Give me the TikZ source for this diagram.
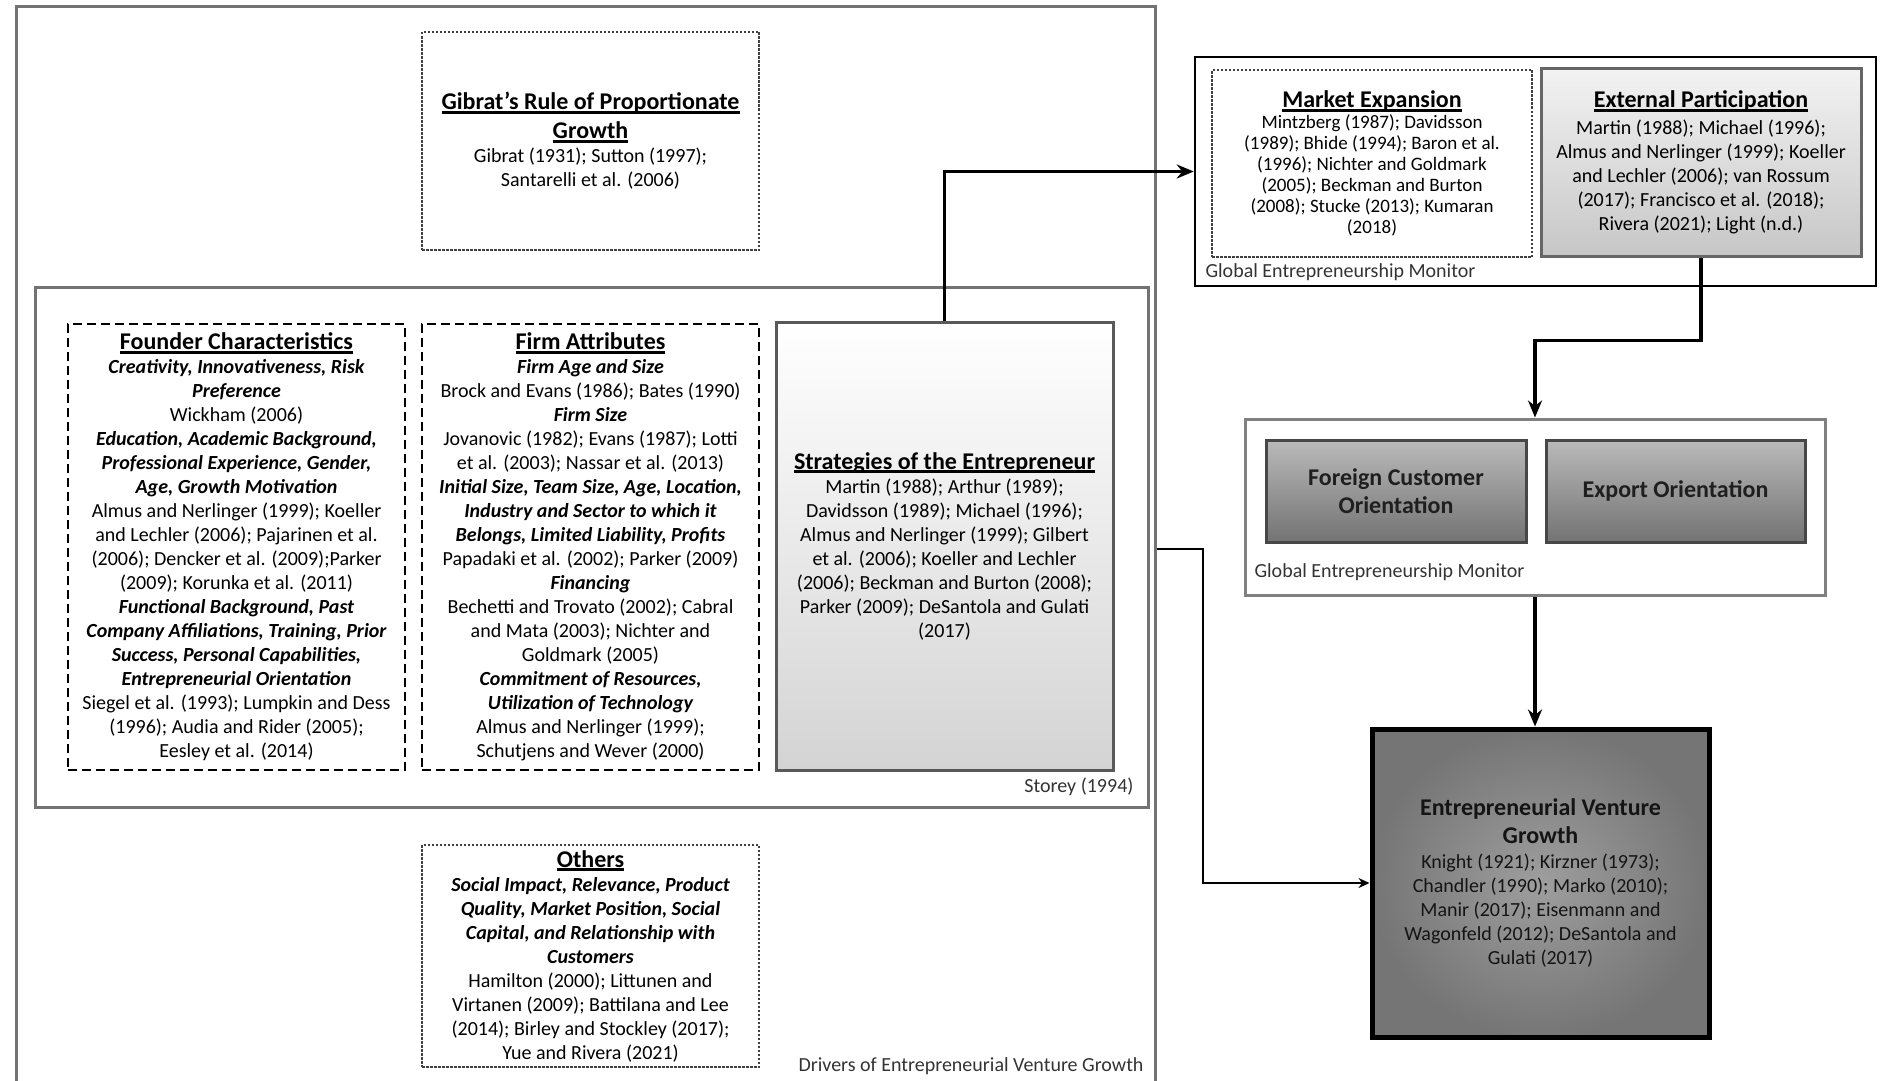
\documentclass[tikz,border=0pt]{standalone}
\usepackage{fontspec}
\setmainfont{Carlito}
\usetikzlibrary{arrows.meta}

% underlined box heading, bold
\newcommand{\hdline}[1]{\setbox0=\hbox{\fontsize{24}{24}\selectfont\bfseries\color{black}#1}\rlap{\color{black}\rule[-4pt]{\wd0}{2.6pt}}\box0}
% bold italic sub heading
\newcommand{\subhd}[1]{{\bfseries\itshape\color{black}#1}}

\begin{document}
\begin{tikzpicture}[x=1pt,y=-1pt,
    every node/.style={font=\fontsize{20}{24}\selectfont,align=center,text=black!78},
    frame/.style={draw=black!55,line width=3pt},
    dotbox/.style={draw=black!75,line width=1.5pt,dash pattern=on 2.5pt off 1.5pt},
    dashbox/.style={draw=black,line width=2pt,dash pattern=on 9pt off 5pt},
    stratbox/.style={draw=black!65,line width=3pt,top color=white,bottom color=black!17},
    partbox/.style={draw=black!60,line width=3pt,top color=black!5,bottom color=black!22},
    orientbox/.style={draw=black!72,line width=3pt,top color=black!27,bottom color=black!55,text=black!88,font=\fontsize{24}{28}\selectfont\bfseries},
    growthbox/.style={draw=black,line width=5pt,inner color=black!38,outer color=black!54,text=black!92},
    note/.style={text=black!80},
    flow/.style={->,>={Stealth[length=17pt,width=14pt]},line width=3.5pt},
    thin flow/.style={->,>={Stealth[length=11pt,width=10pt]},line width=1.8pt}]
    \useasboundingbox (0,0) rectangle (1901,1081);

    % frames
    \node[frame,anchor=north west,minimum width=1139pt,minimum height=1085pt] (drv) at (15,5) {};
    \node[frame,anchor=north west,minimum width=1113pt,minimum height=520pt] (sty) at (34,286) {};
    \node[draw=black,line width=2.5pt,minimum width=681pt,minimum height=229pt] (gem1) at (1535.5,171.5) {};
    \node[frame,draw=black!50,minimum width=580pt,minimum height=176pt] (gem2) at (1535,507) {};

    % drivers
    \node[dotbox,minimum width=337pt,minimum height=218pt] (gib) at (590.5,141) {\hdline{Gibrat's Rule of Proportionate}\\[5pt]
        \hdline{Growth}\\
        Gibrat (1931); Sutton (1997);\\
        Santarelli et al. (2006)};
    \node[dashbox,minimum width=337pt,minimum height=446pt] (fnd) at (236.5,547) {\hdline{Founder Characteristics}\\
        \subhd{Creativity, Innovativeness, Risk}\\
        \subhd{Preference}\\
        Wickham (2006)\\
        \subhd{Education, Academic Background,}\\
        \subhd{Professional Experience, Gender,}\\
        \subhd{Age, Growth Motivation}\\
        Almus and Nerlinger (1999); Koeller\\
        and Lechler (2006); Pajarinen et al.\\
        (2006); Dencker et al. (2009);Parker\\
        (2009); Korunka et al. (2011)\\
        \subhd{Functional Background, Past}\\
        \subhd{Company Affiliations, Training, Prior}\\
        \subhd{Success, Personal Capabilities,}\\
        \subhd{Entrepreneurial Orientation}\\
        Siegel et al. (1993); Lumpkin and Dess\\
        (1996); Audia and Rider (2005);\\
        Eesley et al. (2014)};
    \node[dashbox,minimum width=337pt,minimum height=446pt] (frm) at (590.5,547) {\hdline{Firm Attributes}\\
        \subhd{Firm Age and Size}\\
        Brock and Evans (1986); Bates (1990)\\
        \subhd{Firm Size}\\
        Jovanovic (1982); Evans (1987); Lotti\\
        et al. (2003); Nassar et al. (2013)\\
        \subhd{Initial Size, Team Size, Age, Location,}\\
        \subhd{Industry and Sector to which it}\\
        \subhd{Belongs, Limited Liability, Profits}\\
        Papadaki et al. (2002); Parker (2009)\\
        \subhd{Financing}\\
        Bechetti and Trovato (2002); Cabral\\
        and Mata (2003); Nichter and\\
        Goldmark (2005)\\
        \subhd{Commitment of Resources,}\\
        \subhd{Utilization of Technology}\\
        Almus and Nerlinger (1999);\\
        Schutjens and Wever (2000)};
    \node[stratbox,minimum width=337pt,minimum height=448pt] (strat) at (944.5,546) {\hdline{Strategies of the Entrepreneur}\\
        Martin (1988); Arthur (1989);\\
        Davidsson (1989); Michael (1996);\\
        Almus and Nerlinger (1999); Gilbert\\
        et al. (2006); Koeller and Lechler\\
        (2006); Beckman and Burton (2008);\\
        Parker (2009); DeSantola and Gulati\\
        (2017)};
    \node[dotbox,minimum width=337pt,minimum height=222pt] (oth) at (590.5,956) {\hdline{Others}\\
        \subhd{Social Impact, Relevance, Product}\\
        \subhd{Quality, Market Position, Social}\\
        \subhd{Capital, and Relationship with}\\
        \subhd{Customers}\\
        Hamilton (2000); Littunen and\\
        Virtanen (2009); Battilana and Lee\\
        (2014); Birley and Stockley (2017);\\
        Yue and Rivera (2021)};

    % global entrepreneurship monitor
    \node[dotbox,font=\fontsize{19}{21}\selectfont,minimum width=320pt,minimum height=187pt] (mkt) at (1372,163.5) {\hdline{Market Expansion}\\
        Mintzberg (1987); Davidsson\\
        (1989); Bhide (1994); Baron et al.\\
        (1996); Nichter and Goldmark\\
        (2005); Beckman and Burton\\
        (2008); Stucke (2013); Kumaran\\
        (2018)};
    \node[partbox,minimum width=320pt,minimum height=187pt] (extp) at (1701,162.5) {\hdline{External Participation}\\[3pt]
        Martin (1988); Michael (1996);\\
        Almus and Nerlinger (1999); Koeller\\
        and Lechler (2006); van Rossum\\
        (2017); Francisco et al. (2018);\\
        Rivera (2021); Light (n.d.)};
    \node[orientbox,minimum width=260pt,minimum height=102pt] (fco) at (1396,491) {Foreign Customer\\Orientation};
    \node[orientbox,minimum width=259pt,minimum height=102pt] (exo) at (1675.5,491) {Export Orientation};

    \node[growthbox,minimum width=337pt,minimum height=308pt] (evg) at (1540.5,883) {{\fontsize{24}{28}\selectfont\bfseries Entrepreneurial Venture}\\[4pt]
        {\fontsize{24}{28}\selectfont\bfseries Growth}\\[1pt]
        Knight (1921); Kirzner (1973);\\
        Chandler (1990); Marko (2010);\\
        Manir (2017); Eisenmann and\\
        Wagonfeld (2012); DeSantola and\\
        Gulati (2017)};

    % frame labels
    \node[note,anchor=east] (stylbl) at (1137,787) {Storey (1994)};
    \node[note,anchor=east] (drvlbl) at (1147,1066) {Drivers of Entrepreneurial Venture Growth};
    \node[note,anchor=west] (gemlbl1) at (1202,272) {Global Entrepreneurship Monitor};
    \node[note,anchor=west] (gemlbl2) at (1251,572) {Global Entrepreneurship Monitor};

    % connectors
    \draw[flow] (strat.north) |- (gem1.west);
    \draw[flow] (extp.south) -- ++(0,83) -| (gem2.north);
    \draw[flow] (gem2.south) -- (gem2.south |- evg.north);
    \draw[thin flow] (drv.east) -- ++(46,0) |- (evg.west);
\end{tikzpicture}
\end{document}
